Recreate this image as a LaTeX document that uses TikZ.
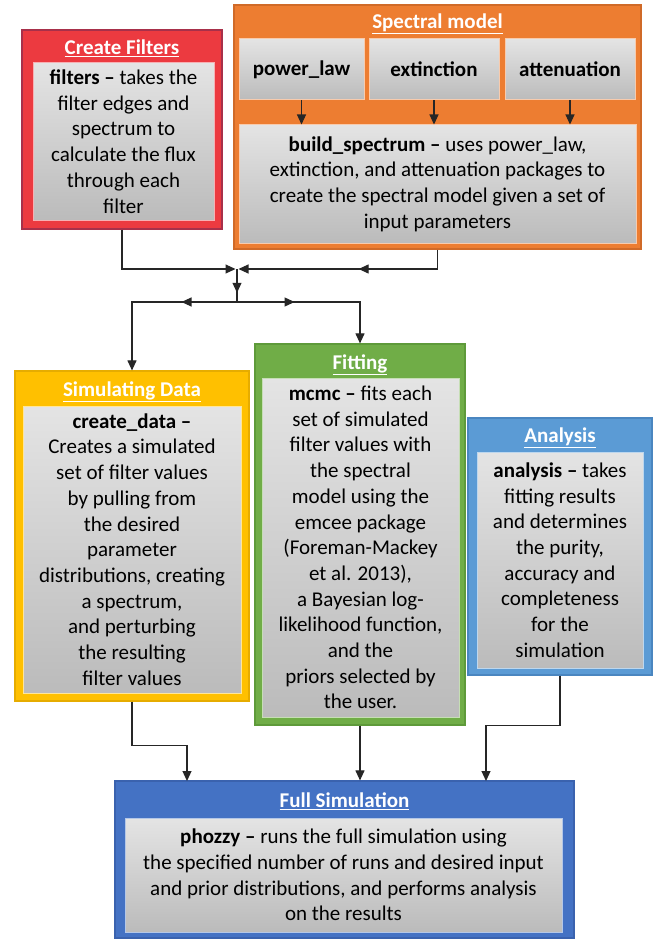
\documentclass[tikz,border=0pt]{standalone}
\usepackage{fontspec}
\setmainfont{Carlito}
\usetikzlibrary{arrows.meta,decorations.markings,calc}
\definecolor{cfred}{HTML}{EC3A40}\definecolor{cfredb}{HTML}{A8304A}
\definecolor{smor}{HTML}{ED7D31}\definecolor{smorb}{HTML}{D06A28}
\definecolor{sdyl}{HTML}{FFC000}\definecolor{sdylb}{HTML}{E6AC00}
\definecolor{ftgr}{HTML}{70AD47}\definecolor{ftgrb}{HTML}{5E9A3A}
\definecolor{anbl}{HTML}{5B9BD5}\definecolor{anblb}{HTML}{4A86C0}
\definecolor{fsbl}{HTML}{4472C4}\definecolor{fsblb}{HTML}{3A62AE}
\definecolor{gtop}{HTML}{E4E4E4}
\definecolor{gbot}{HTML}{BBBBBB}
\tikzset{
  txt/.style={font=\fontsize{21}{25.7}\selectfont},
  outerbox/.style 2 args={draw=#2, fill=#1, line width=1.2pt, inner sep=0pt},
  innerbox/.style={draw=#1, line width=1pt, top color=gtop, bottom color=gbot, align=center, inner sep=0pt, txt},
  titletext/.style={text=white, font=\fontsize{21}{25.7}\selectfont\bfseries},
  conn/.style={draw=black!85, line width=1.1pt},
  tipend/.style={-{Triangle[length=10pt,width=9pt]}},
  midtip/.style={postaction={decorate}, decoration={markings, mark=at position #1 with {\arrow{Triangle[length=10pt,width=9pt]}}}},
}
\begin{document}
\begin{tikzpicture}[x=1pt,y=-1pt]
\fill[white] (0,0) rectangle (662,939);
\useasboundingbox (0,0) rectangle (662,939);
% Create Filters
\node[outerbox={cfred}{cfredb}, minimum width=200pt, minimum height=199pt] (CF) at (122,129.5) {};
\node[titletext] (CFt) at (122,48) {\underline{Create Filters}};
\node[innerbox=cfred!40!white, minimum width=181pt, minimum height=157pt] (CFi) at (123.5,141.5)
 {\textbf{filters \textendash} takes the\\filter edges and\\spectrum to\\calculate the flux\\through each\\filter};
% Spectral model
\node[outerbox={smor}{smorb}, minimum width=407pt, minimum height=244pt] (SM) at (437.5,127) {};
\node[titletext] (SMt) at (437.5,24) {\underline{Spectral model}};
\node[innerbox=smor!40!white, minimum width=125pt, minimum height=61pt] (pl) at (301.5,69.5) {\textbf{power\_law}};
\node[innerbox=smor!40!white, minimum width=130pt, minimum height=61pt] (ext) at (434,69.5) {\textbf{extinction}};
\node[innerbox=smor!40!white, minimum width=130pt, minimum height=61pt] (att) at (570,69.5) {\textbf{attenuation}};
\node[innerbox=smor!40!white, minimum width=397pt, minimum height=118pt] (bs) at (437.5,184)
 {\textbf{build\_spectrum \textendash} uses power\_law,\\extinction, and attenuation packages to\\create the spectral model given a set of\\input parameters};
\draw[conn,tipend] (pl.south) -- (pl.south |- bs.north);
\draw[conn,tipend] (ext.south) -- (ext.south |- bs.north);
\draw[conn,tipend] (att.south) -- (att.south |- bs.north);
% Simulating Data
\node[outerbox={sdyl}{sdylb}, minimum width=234pt, minimum height=330pt] (SD) at (132,536) {};
\node[titletext] (SDt) at (132,392) {\underline{Simulating Data}};
\node[innerbox=sdyl!40!white, minimum width=218pt, minimum height=287pt] (SDi) at (132,549.5)
 {\textbf{create\_data \textendash}\\Creates a simulated\\set of filter values\\by pulling from\\the desired\\parameter\\distributions, creating\\a spectrum,\\and perturbing\\the resulting\\filter values};
% Fitting
\node[outerbox={ftgr}{ftgrb}, minimum width=210pt, minimum height=381pt] (FT) at (360,534.5) {};
\node[titletext] (FTt) at (360,365) {\underline{Fitting}};
\node[innerbox=ftgr!40!white, minimum width=197pt, minimum height=339pt] (FTi) at (360.5,547.5)
 {\textbf{mcmc \textendash} fits each\\set of simulated\\filter values with\\the spectral\\model using the\\emcee package\\(Foreman-Mackey\\et al. 2013),\\a Bayesian log-\\likelihood function,\\and the\\priors selected by\\the user.};
% Analysis
\node[outerbox={anbl}{anblb}, minimum width=184pt, minimum height=257pt] (AN) at (560,546.5) {};
\node[titletext] (ANt) at (560,438) {\underline{Analysis}};
\node[innerbox=anbl!40!white, minimum width=166pt, minimum height=216pt] (ANi) at (560,560)
 {\textbf{analysis \textendash} takes\\fitting results\\and determines\\the purity,\\accuracy and\\completeness\\for the\\simulation};
% Full Simulation
\node[outerbox={fsbl}{fsblb}, minimum width=459pt, minimum height=157pt] (FS) at (344.5,859.5) {};
\node[titletext] (FSt) at (344.5,801) {\underline{Full Simulation}};
\node[innerbox=fsbl!40!white, minimum width=437pt, minimum height=114pt] (FSi) at (343.5,875)
 {\textbf{phozzy \textendash} runs the full simulation using\\the specified number of runs and desired input\\and prior distributions, and performs analysis\\on the results};
% connectors top
\coordinate (J) at (237,269);
\coordinate (Jl) at (235.5,269);
\coordinate (Jr) at (238.5,269);
\coordinate (K) at (237,302);
\draw[conn,tipend] (CF.south) |- (Jl);
\draw[conn,tipend,midtip=0.45] (SM.south) |- (Jr);
\draw[conn,midtip=0.72] (J) -- (K);
\draw[conn,tipend,midtip=0.32] (K) -| (SD.north);
\draw[conn,tipend,midtip=0.35] (K) -| (FT.north);
% connectors bottom
\coordinate (FSa) at (187,781);
\coordinate (FSc) at (486,781);
\draw[conn,tipend] (SD.south) -- ++(0,44) -| (FSa);
\draw[conn,tipend] (FT.south) -- (FT.south |- FS.north);
\draw[conn,tipend] (AN.south) -- ++(0,50) -| (FSc);
\end{tikzpicture}
\end{document}
